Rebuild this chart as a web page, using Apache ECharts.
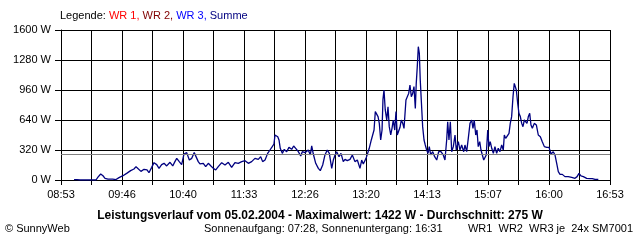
<!DOCTYPE html>
<html><head><meta charset="utf-8">
<script src="https://cdn.jsdelivr.net/npm/echarts@6/dist/echarts.min.js"></script>
<style>html,body{margin:0;padding:0;background:#fff}#c{width:640px;height:240px}</style>
</head><body><div id="c"></div>
<script>
// minutes after 08:53
const minutes = [11.4,14.0,16.6,21.0,25.4,30.6,32.3,34.7,36.7,38.5,41.1,45.2,48.1,49.8,50.7,54.2,57.4,60.9,63.8,65.6,67.3,69.9,72.6,75.2,76.9,79.3,81.3,83.7,85.7,88.0,90.1,92.4,95.3,97.7,99.7,101.2,103.4,105.5,107.5,109.9,112.2,114.3,116.5,117.8,120.0,121.5,124.4,126.5,128.8,131.1,133.2,135.3,137.5,140.5,143.4,146.3,149.2,152.1,155.0,158.0,160.9,163.8,166.7,169.6,172.5,174.6,176.3,178.4,180.7,182.7,184.7,186.2,187.1,189.5,190.6,191.7,193.5,195.2,197.3,199.3,201.7,203.4,205.2,207.5,209.6,211.0,213.3,216.2,218.0,219.2,220.6,222.7,225.0,226.7,228.8,230.8,232.8,234.6,236.7,238.1,239.6,241.0,243.1,244.8,246.8,248.3,250.3,252.7,254.7,257.0,259.1,261.4,262.9,264.3,266.7,268.1,269.5,271.3,272.5,273.7,274.8,276.0,277.2,278.3,279.5,280.7,281.5,282.4,283.5,284.8,285.9,287.0,288.3,289.4,290.5,291.8,292.9,294.0,295.3,296.4,297.5,298.8,299.9,301.6,302.8,304.0,305.1,306.3,307.5,308.6,309.8,310.6,311.5,312.4,313.3,314.1,315.0,316.2,317.4,318.5,319.7,320.9,322.0,323.2,325.0,326.7,328.5,330.2,331.4,332.2,334.2,335.7,337.2,338.1,339.2,340.4,341.6,343.0,344.5,345.6,347.4,348.8,350.3,352.1,353.2,354.7,356.1,357.6,359.1,360.2,361.3,362.6,363.7,364.8,366.1,367.2,368.4,369.6,370.7,371.8,373.1,374.2,375.3,376.6,378.0,379.4,380.9,382.3,383.8,385.3,386.7,387.6,388.8,389.9,391.7,392.8,394.0,395.2,396.3,397.2,398.1,399.3,400.4,401.6,402.8,403.9,405.1,406.3,407.4,408.6,409.8,410.9,412.1,413.8,415.6,417.3,419.1,420.8,422.6,424.7,426.7,428.4,430.4,431.9,433.4,434.8,436.3,438.3,440.6,443.5,446.5,449.4,451.2,452.9,454.6,456.7,459.6,462.5,464.5,466.9,469.8];
const summe = [3,3,0,0,0,0,30,64,45,18,10,10,5,0,25,46,71,100,117,142,121,92,114,107,78,135,185,164,124,164,178,150,189,150,199,231,196,164,277,292,213,231,292,306,196,171,178,142,178,149,124,107,142,185,160,189,135,185,178,196,206,178,196,231,220,249,196,213,284,320,356,384,480,462,427,338,284,327,302,348,327,363,338,302,256,302,292,320,267,363,277,178,124,100,160,267,320,284,124,213,267,302,249,284,196,220,206,220,267,196,213,124,213,171,231,220,338,427,480,533,729,711,676,604,427,533,860,960,747,640,782,569,480,551,640,533,729,480,480,562,640,604,551,853,840,924,1013,889,924,996,764,1031,1209,1422,1351,1067,853,569,427,373,320,284,356,267,302,249,213,302,320,302,267,213,427,622,427,622,302,356,480,320,409,320,373,302,373,302,444,604,640,551,640,480,533,356,409,320,302,213,196,267,533,356,409,338,284,356,284,338,302,373,320,480,444,427,498,604,676,889,1031,1049,960,818,711,676,604,569,640,622,604,676,711,587,551,604,587,480,462,409,356,348,348,277,302,267,178,89,60,60,36,36,28,18,36,71,43,36,18,14,15,7,7];
const xTickLabels = ['08:53','09:46','10:40','11:33','12:26','13:20','14:13','15:07','16:00','16:53'];
const yTicks = [0,320,640,960,1280,1600];
const average = 275;

const FONT = 'Liberation Sans';
const chart = echarts.init(document.getElementById('c'), null, {renderer:'canvas'});
const seriesData = minutes.map((m,i)=>[m*60, summe[i]]);
chart.setOption({
  animation:false,
  backgroundColor:'#ffffff',
  textStyle:{fontFamily:FONT},
  grid:{left:61, top:30, width:549, height:150, containLabel:false},
  xAxis:{type:'value', min:0, max:28800, interval:1600,
    axisLine:{show:true, lineStyle:{color:'#000', width:1}},
    axisTick:{show:true, length:5, lineStyle:{color:'#000'}},
    splitLine:{show:true, lineStyle:{color:'#000', width:1}},
    axisLabel:{margin:9, color:'#000', fontSize:11, fontFamily:FONT, showMinLabel:true, showMaxLabel:true,
      formatter:v=>{const i=Math.round(v/1600); return i%2===0 ? xTickLabels[i/2] : '';}}
  },
  yAxis:{type:'value', min:yTicks[0], max:yTicks[yTicks.length-1], interval:320,
    axisLine:{show:true, lineStyle:{color:'#000', width:1}},
    axisTick:{show:true, length:6, lineStyle:{color:'#000'}},
    splitLine:{show:true, lineStyle:{color:'#000', width:1}},
    axisLabel:{margin:10, color:'#000', fontSize:11, fontFamily:FONT, formatter:v=>v+' W'}
  },
  series:[{type:'line', name:'Summe', data:seriesData, showSymbol:false, symbol:'none',
    lineStyle:{color:'#000080', width:1.3}, itemStyle:{color:'#000080'},
    markLine:{silent:true, symbol:['none','none'], label:{show:false},
      lineStyle:{color:'#808080', width:1, type:'solid'}, data:[{yAxis:average}]}
  }],
  graphic:[
    {type:'text', left:60, top:10, style:{text:'{k|Legende: }{a|WR 1, }{b|WR 2, }{c|WR 3, }{d|Summe}', font:'11px '+FONT,
      rich:{k:{fill:'#000',font:'11px '+FONT},a:{fill:'#ff0000',font:'11px '+FONT},b:{fill:'#800000',font:'11px '+FONT},c:{fill:'#0000ff',font:'11px '+FONT},d:{fill:'#000080',font:'11px '+FONT}}}},
    {type:'text', x:320, y:216, style:{text:'Leistungsverlauf vom 05.02.2004 - Maximalwert: 1422 W - Durchschnitt: 275 W', font:'bold 12px '+FONT, fill:'#000', textAlign:'center', textVerticalAlign:'middle'}},
    {type:'text', x:5, y:229, style:{text:'© SunnyWeb', font:'11px '+FONT, fill:'#000', textAlign:'left', textVerticalAlign:'middle'}},
    {type:'text', x:204, y:229, style:{text:'Sonnenaufgang: 07:28, Sonnenuntergang: 16:31', font:'11px '+FONT, fill:'#000', textAlign:'left', textVerticalAlign:'middle'}},
    {type:'text', x:633, y:229, style:{text:'WR1  WR2  WR3 je  24x SM7001', font:'11px '+FONT, fill:'#000', textAlign:'right', textVerticalAlign:'middle'}}
  ]
});
</script></body></html>
